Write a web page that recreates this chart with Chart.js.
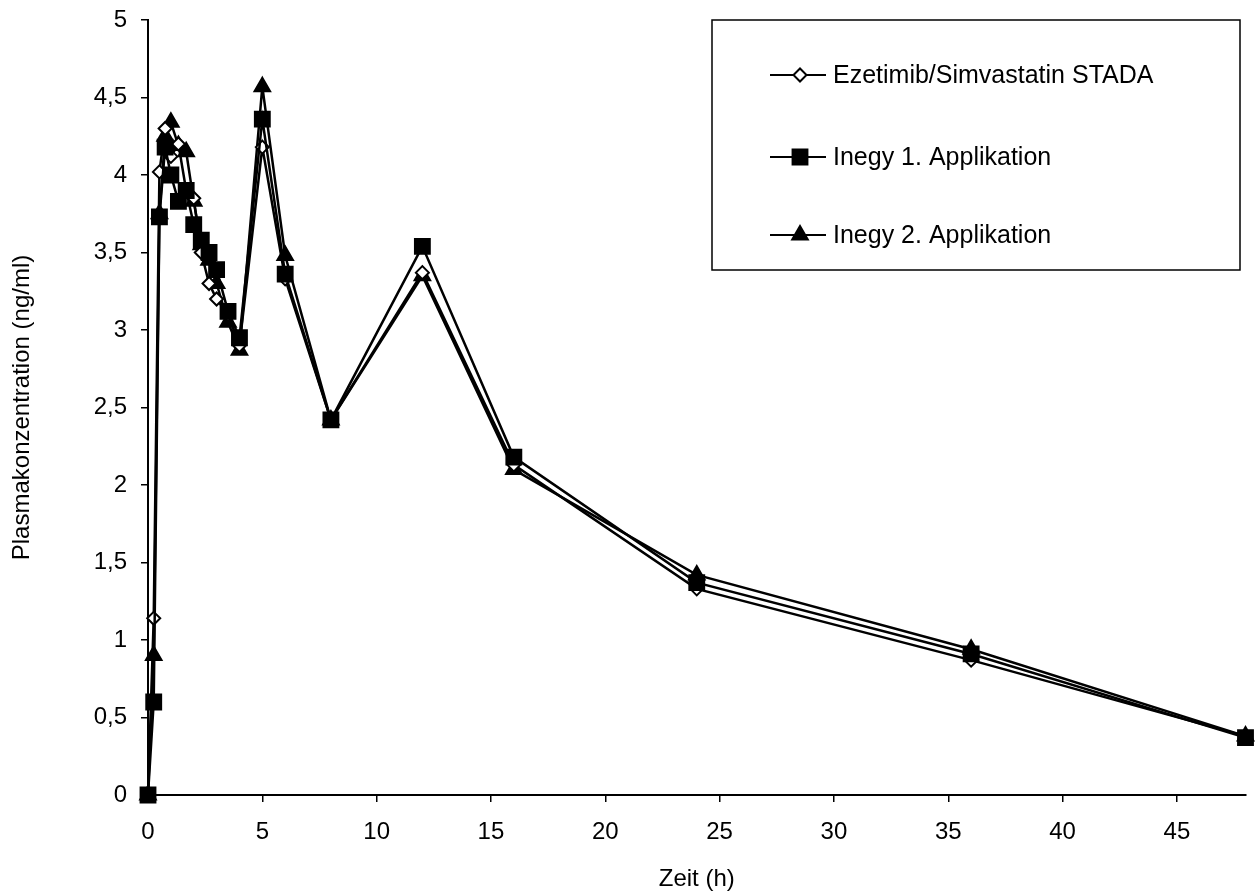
<!DOCTYPE html>
<html>
<head>
<meta charset="utf-8">
<script src="https://cdn.jsdelivr.net/npm/chart.js@4.4.1/dist/chart.umd.min.js"></script>
<style>
  html, body { margin: 0; padding: 0; background: #fff; }
  #wrap { width: 1258px; height: 895px; }
</style>
</head>
<body>
<div id="wrap"><canvas id="myChart" width="1258" height="895"></canvas></div>
<script>
// Zeitpunkte (h)
var zeit = [0, 0.25, 0.5, 0.75, 1, 1.33, 1.67, 2, 2.33, 2.67, 3, 3.5, 4, 5, 6, 8, 12, 16, 24, 36, 48];

// Plasmakonzentration (ng/ml)
var stada  = [0, 1.14, 4.02, 4.30, 4.12, 4.20, 3.90, 3.85, 3.50, 3.30, 3.20, 3.10, 2.90, 4.18, 3.33, 2.42, 3.37, 2.13, 1.33, 0.87, 0.38];
var inegy1 = [0, 0.60, 3.73, 4.18, 4.00, 3.83, 3.90, 3.68, 3.58, 3.50, 3.39, 3.12, 2.95, 4.36, 3.36, 2.42, 3.54, 2.18, 1.37, 0.91, 0.37];
var inegy2 = [0, 0.90, 3.75, 4.25, 4.34, 4.19, 4.15, 3.83, 3.55, 3.45, 3.30, 3.05, 2.87, 4.57, 3.48, 2.42, 3.35, 2.10, 1.42, 0.94, 0.38];

var namen = ["Ezetimib/Simvastatin STADA", "Inegy 1. Applikation", "Inegy 2. Applikation"];
var xTicks = [0, 5, 10, 15, 20, 25, 30, 35, 40, 45];

function punkte(werte) {
    return werte.map(function (v, i) { return { x: zeit[i], y: v }; });
}

var FONT = "'Liberation Sans', Arial, sans-serif";
var FS = 24;

// legend box drawn by hand, like the original
var boxLegend = {
    id: "boxLegend",
    afterDraw: function (chart) {
        var ctx = chart.ctx;
        var x0 = 712, y0 = 20, x1 = 1240, y1 = 270;
        var rows = [75, 157, 235];
        ctx.save();
        ctx.fillStyle = "#fff";
        ctx.fillRect(x0, y0, x1 - x0, y1 - y0);
        ctx.strokeStyle = "#000";
        ctx.lineWidth = 1.5;
        ctx.strokeRect(x0, y0, x1 - x0, y1 - y0);
        namen.forEach(function (name, i) {
            var ds = chart.data.datasets.filter(function (d) { return d.label === name; })[0];
            var y = rows[i];
            ctx.strokeStyle = "#000";
            ctx.lineWidth = 2;
            ctx.beginPath();
            ctx.moveTo(770, y);
            ctx.lineTo(826, y);
            ctx.stroke();
            ctx.fillStyle = ds.pointBackgroundColor;
            ctx.strokeStyle = "#000";
            ctx.lineWidth = 2;
            Chart.helpers.drawPoint(ctx, {
                pointStyle: ds.pointStyle,
                radius: ds.pointRadius,
                borderWidth: 2
            }, 800, y);
            ctx.fillStyle = "#000";
            ctx.font = "25px " + FONT;
            ctx.textBaseline = "middle";
            ctx.textAlign = "left";
            ctx.fillText(name, 833, y + 1);
        });
        ctx.restore();
    }
};

function serie(name, werte, stil, r, fuellung) {
    return {
        label: name,
        data: punkte(werte),
        borderColor: "#000",
        borderWidth: 2.5,
        pointStyle: stil,
        pointRadius: r,
        pointHoverRadius: r,
        pointBorderWidth: 2,
        pointBackgroundColor: fuellung,
        pointBorderColor: "#000",
        fill: false,
        tension: 0,
        clip: false
    };
}

var ctx = document.getElementById("myChart").getContext("2d");
var chart = new Chart(ctx, {
    type: "line",
    data: {
        datasets: [
            serie(namen[1], inegy1, "rect", 10.5, "#000"),
            serie(namen[0], stada, "rectRot", 6.5, "#fff"),
            serie(namen[2], inegy2, "triangle", 9, "#000")
        ]
    },
    options: {
        responsive: false,
        animation: false,
        layout: { padding: { left: 0, right: 10, top: 20, bottom: 0 } },
        plugins: {
            legend: { display: false },
            tooltip: { enabled: false }
        },
        scales: {
            x: {
                type: "linear",
                min: 0,
                max: 48,
                afterFit: function (s) { s.height = 100; s.paddingLeft = 0; s.paddingRight = 0; },
                afterBuildTicks: function (s) {
                    s.ticks = xTicks.map(function (v) { return { value: v }; });
                },
                grid: {
                    display: true,
                    drawOnChartArea: false,
                    drawTicks: true,
                    tickLength: 7,
                    color: "#000",
                    lineWidth: 1.5
                },
                border: { display: true, color: "#000", width: 2 },
                ticks: {
                    color: "#000",
                    font: { family: FONT, size: FS },
                    padding: 16,
                    maxRotation: 0
                },
                title: {
                    display: true,
                    text: "Zeit (h)",
                    color: "#000",
                    font: { family: FONT, size: FS },
                    padding: { top: 4, bottom: 1 }
                }
            },
            y: {
                min: 0,
                max: 5,
                afterFit: function (s) { s.width = 148; s.paddingTop = 0; s.paddingBottom = 0; },
                ticks: {
                    stepSize: 0.5,
                    color: "#000",
                    font: { family: FONT, size: FS },
                    padding: 14,
                    callback: function (v) { return String(v).replace(".", ","); }
                },
                grid: {
                    display: true,
                    drawOnChartArea: false,
                    drawTicks: true,
                    tickLength: 7,
                    color: "#000",
                    lineWidth: 1.5
                },
                border: { display: true, color: "#000", width: 2 },
                title: {
                    display: true,
                    text: "Plasmakonzentration (ng/ml)",
                    color: "#000",
                    font: { family: FONT, size: FS },
                    padding: { top: 8, bottom: 0 }
                }
            }
        }
    },
    plugins: [boxLegend]
});
</script>
</body>
</html>
